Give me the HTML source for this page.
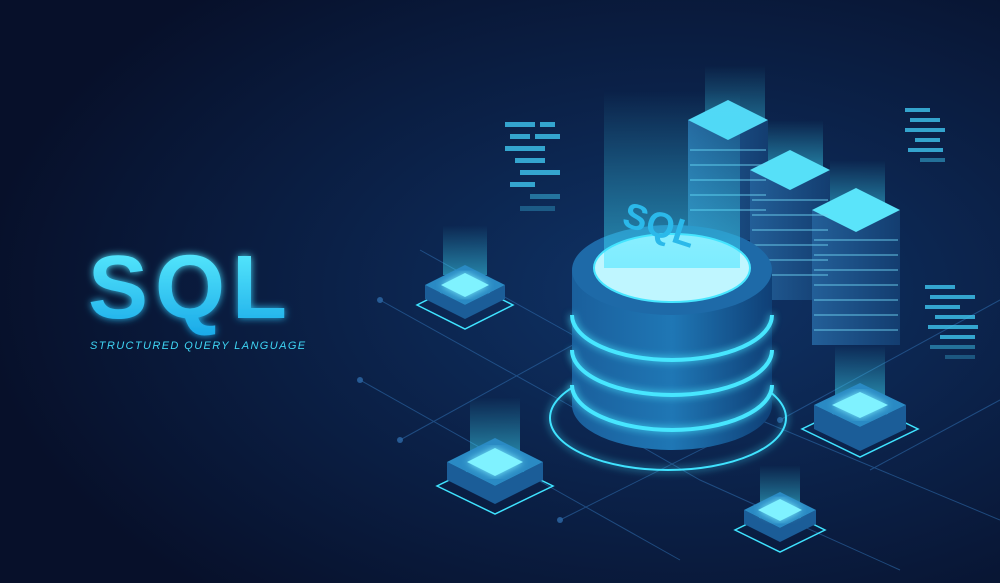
<!DOCTYPE html>
<html><head><style>
html,body{margin:0;padding:0;width:1000px;height:583px;overflow:hidden;background:#08122b}
svg{display:block}
</style></head><body>
<svg width="1000" height="583" viewBox="0 0 1000 583" xmlns="http://www.w3.org/2000/svg">
<defs>
<radialGradient id="bg" cx="0.68" cy="0.5" r="0.7">
<stop offset="0" stop-color="#0f3468"/><stop offset="0.5" stop-color="#0b2148"/><stop offset="1" stop-color="#07102a"/>
</radialGradient>
<linearGradient id="sqlg" x1="0" y1="0" x2="0" y2="1">
<stop offset="0" stop-color="#5ef0ff"/><stop offset="1" stop-color="#18a8e8"/>
</linearGradient>
<linearGradient id="beam" x1="0" y1="1" x2="0" y2="0">
<stop offset="0" stop-color="#3fe3ff" stop-opacity="0.8"/><stop offset="1" stop-color="#3fe3ff" stop-opacity="0"/>
</linearGradient>
<linearGradient id="cyl" x1="0" y1="0" x2="1" y2="0">
<stop offset="0" stop-color="#1a5f9c"/><stop offset="0.5" stop-color="#1f77b5"/><stop offset="1" stop-color="#0f3f76"/>
</linearGradient>
<linearGradient id="srv" x1="0" y1="0" x2="1" y2="0">
<stop offset="0" stop-color="#235f98"/><stop offset="1" stop-color="#133d70"/>
</linearGradient>
<filter id="glow"><feGaussianBlur stdDeviation="4" result="b"/><feMerge><feMergeNode in="b"/><feMergeNode in="SourceGraphic"/></feMerge></filter>
</defs>
<rect width="1000" height="583" fill="url(#bg)"/>
<g stroke="#2d69a8" stroke-width="1" fill="none" opacity="0.6">
<path d="M380 300 L560 400 L700 480 L900 570"/>
<path d="M360 380 L520 470 L680 560"/>
<path d="M420 250 L600 350"/>
<path d="M780 420 L1000 300"/>
<path d="M560 520 L760 420 L1000 520"/>
<path d="M400 440 L600 330"/>
<path d="M870 470 L1000 400"/>
</g>
<g fill="#2d69a8" opacity="0.8">
<circle cx="380" cy="300" r="3"/><circle cx="360" cy="380" r="3"/><circle cx="400" cy="440" r="3"/><circle cx="560" cy="520" r="3"/><circle cx="780" cy="420" r="3"/>
</g>
<g fill="#3fc6ef" opacity="0.8">
<rect x="505" y="122" width="30" height="5"/><rect x="540" y="122" width="15" height="5"/>
<rect x="510" y="134" width="20" height="5"/><rect x="535" y="134" width="25" height="5"/>
<rect x="505" y="146" width="40" height="5"/><rect x="515" y="158" width="30" height="5"/>
<rect x="520" y="170" width="40" height="5"/><rect x="510" y="182" width="25" height="5"/>
<rect x="530" y="194" width="30" height="5" opacity="0.6"/><rect x="520" y="206" width="35" height="5" opacity="0.4"/>
<rect x="905" y="108" width="25" height="4"/><rect x="910" y="118" width="30" height="4"/><rect x="905" y="128" width="40" height="4"/>
<rect x="915" y="138" width="25" height="4"/><rect x="908" y="148" width="35" height="4"/><rect x="920" y="158" width="25" height="4" opacity="0.6"/>
<rect x="925" y="285" width="30" height="4"/><rect x="930" y="295" width="45" height="4"/><rect x="925" y="305" width="35" height="4"/>
<rect x="935" y="315" width="40" height="4"/><rect x="928" y="325" width="50" height="4"/><rect x="940" y="335" width="35" height="4"/>
<rect x="930" y="345" width="45" height="4" opacity="0.6"/><rect x="945" y="355" width="30" height="4" opacity="0.4"/>
</g>
<g>
<rect x="705" y="65" width="60" height="90" fill="url(#beam)" opacity="0.7"/>
<rect x="688" y="120" width="80" height="120" fill="url(#srv)"/>
<path d="M688 120 L728 100 L768 120 L728 140 Z" fill="#52d8f5"/>
<rect x="750" y="170" width="80" height="130" fill="url(#srv)"/>
<rect x="768" y="120" width="55" height="50" fill="url(#beam)" opacity="0.6"/>
<path d="M750 170 L790 150 L830 170 L790 190 Z" fill="#56e0f8"/>
<rect x="812" y="210" width="88" height="135" fill="url(#srv)"/>
<rect x="830" y="160" width="55" height="50" fill="url(#beam)" opacity="0.6"/>
<path d="M812 210 L856 188 L900 210 L856 232 Z" fill="#5ae4fa"/>
<g stroke="#6fd4f2" stroke-width="1.5" opacity="0.6">
<line x1="690" y1="150" x2="766" y2="150"/><line x1="690" y1="165" x2="766" y2="165"/><line x1="690" y1="180" x2="766" y2="180"/><line x1="690" y1="195" x2="766" y2="195"/><line x1="690" y1="210" x2="766" y2="210"/>
<line x1="752" y1="200" x2="828" y2="200"/><line x1="752" y1="215" x2="828" y2="215"/><line x1="752" y1="230" x2="828" y2="230"/><line x1="752" y1="245" x2="828" y2="245"/><line x1="752" y1="260" x2="828" y2="260"/><line x1="752" y1="275" x2="828" y2="275"/>
<line x1="814" y1="240" x2="898" y2="240"/><line x1="814" y1="255" x2="898" y2="255"/><line x1="814" y1="270" x2="898" y2="270"/><line x1="814" y1="285" x2="898" y2="285"/><line x1="814" y1="300" x2="898" y2="300"/><line x1="814" y1="315" x2="898" y2="315"/><line x1="814" y1="330" x2="898" y2="330"/>
</g>
</g>
<ellipse cx="668" cy="418" rx="118" ry="52" fill="none" stroke="#3fe3ff" stroke-width="2" filter="url(#glow)"/>
<path d="M572 270 L572 405 A100 45 0 0 0 772 405 L772 270 Z" fill="url(#cyl)"/>
<g fill="none" stroke="#47e6ff" stroke-width="4" filter="url(#glow)">
<path d="M572 315 A100 45 0 0 0 772 315"/>
<path d="M572 350 A100 45 0 0 0 772 350"/>
<path d="M572 385 A100 45 0 0 0 772 385"/>
</g>
<ellipse cx="672" cy="270" rx="100" ry="45" fill="#1e6aa8"/>
<ellipse cx="672" cy="268" rx="78" ry="34" fill="#bff6ff" stroke="#47e6ff" stroke-width="2"/>
<rect x="604" y="90" width="136" height="178" fill="url(#beam)" opacity="0.65"/>
<text x="618" y="238" font-family="Liberation Sans, sans-serif" font-weight="bold" font-size="36" fill="#2bb9ea" transform="rotate(18 660 240)">SQL</text>
<g>
<g transform="translate(465,285)">
<rect x="-22" y="-60" width="44" height="50" fill="url(#beam)" opacity="0.6"/>
<path d="M-48 20 L0 44 L48 20 L0 -4 Z" fill="none" stroke="#3fe3ff" stroke-width="1.5"/>
<path d="M-40 0 L-40 14 L0 34 L40 14 L40 0 L0 20 Z" fill="#1b5d98"/>
<path d="M-40 0 L0 -20 L40 0 L0 20 Z" fill="#2a8ac4"/><path d="M-24 0 L0 -12 L24 0 L0 12 Z" fill="#7ff2ff" filter="url(#glow)"/>
</g>
<g transform="translate(495,462)">
<rect x="-25" y="-65" width="50" height="55" fill="url(#beam)" opacity="0.6"/>
<path d="M-58 24 L0 52 L58 24 L0 -4 Z" fill="none" stroke="#3fe3ff" stroke-width="1.5"/>
<path d="M-48 0 L-48 18 L0 42 L48 18 L48 0 L0 24 Z" fill="#1b5d98"/>
<path d="M-48 0 L0 -24 L48 0 L0 24 Z" fill="#2a8ac4"/><path d="M-28 0 L0 -14 L28 0 L0 14 Z" fill="#7ff2ff" filter="url(#glow)"/>
</g>
<g transform="translate(860,405)">
<rect x="-25" y="-60" width="50" height="50" fill="url(#beam)" opacity="0.6"/>
<path d="M-58 24 L0 52 L58 24 L0 -4 Z" fill="none" stroke="#3fe3ff" stroke-width="1.5"/>
<path d="M-46 0 L-46 24 L0 46 L46 24 L46 0 L0 22 Z" fill="#1b5d98"/>
<path d="M-46 0 L0 -22 L46 0 L0 22 Z" fill="#2a8ac4"/><path d="M-28 0 L0 -13 L28 0 L0 13 Z" fill="#7ff2ff" filter="url(#glow)"/>
</g>
<g transform="translate(780,510)">
<rect x="-20" y="-45" width="40" height="40" fill="url(#beam)" opacity="0.6"/>
<path d="M-45 20 L0 42 L45 20 L0 -2 Z" fill="none" stroke="#3fe3ff" stroke-width="1.5"/>
<path d="M-36 0 L-36 14 L0 32 L36 14 L36 0 L0 18 Z" fill="#1b5d98"/>
<path d="M-36 0 L0 -18 L36 0 L0 18 Z" fill="#2a8ac4"/><path d="M-22 0 L0 -11 L22 0 L0 11 Z" fill="#7ff2ff" filter="url(#glow)"/>
</g>
</g>
<text x="88" y="318" font-family="Liberation Sans, sans-serif" font-weight="bold" font-size="90" letter-spacing="7" fill="url(#sqlg)" filter="url(#glow)">SQL</text>
<text x="90" y="349" font-family="Liberation Sans, sans-serif" font-style="italic" font-size="11" letter-spacing="1.4" fill="#3fd6f5">STRUCTURED QUERY LANGUAGE</text>
</svg>
</body></html>
